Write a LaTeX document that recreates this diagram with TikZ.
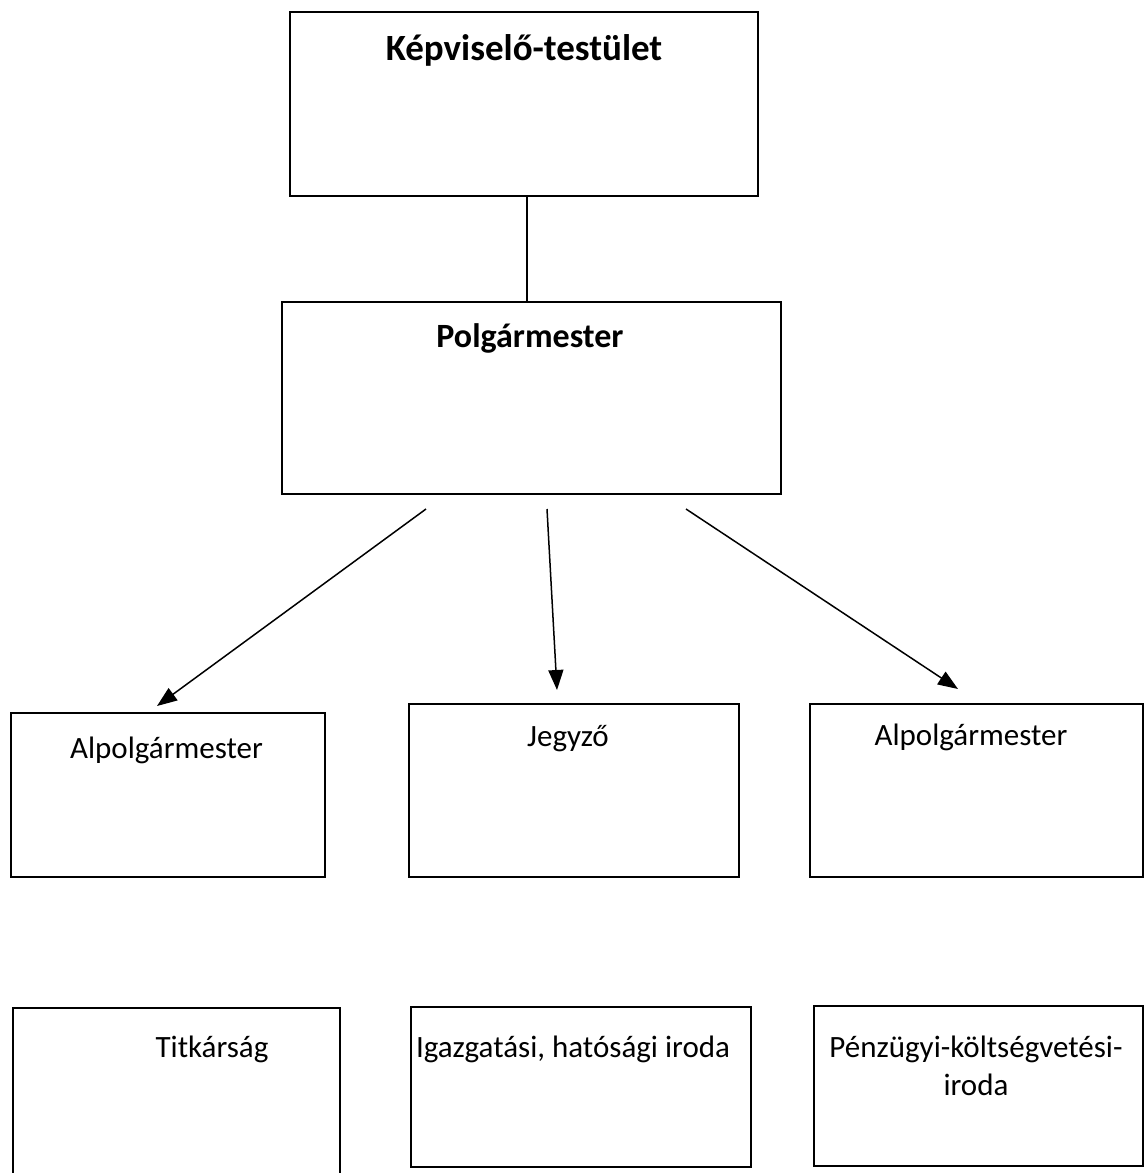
\documentclass[tikz,border=0pt]{standalone}
\usepackage{fontspec}
\setmainfont{Carlito}
\usetikzlibrary{arrows.meta}
\begin{document}
\begin{tikzpicture}[x=0.5pt, y=-0.5pt,
  box/.style={draw, line width=0.9pt, inner sep=0pt},
  lbl/.style={anchor=base, inner sep=0pt, font=\fontsize{15.5pt}{19pt}\selectfont},
  head/.style={anchor=base, inner sep=0pt, font=\fontsize{18.5pt}{22pt}\selectfont\bfseries},
  link/.style={line width=0.75pt, -{Triangle[length=10pt, width=7.5pt]}}]
  \useasboundingbox (0,0) rectangle (1145,1173);
  \fill[white] (0,0) rectangle (1145,1173);
  % boxes
  \node[box, minimum width=234pt, minimum height=92pt] (kt) at (524,104) {};
  \node[box, minimum width=249.5pt, minimum height=96pt] (pm) at (531.5,398) {};
  \node[box, minimum width=157pt, minimum height=82pt] (alp1) at (168,795) {};
  \node[box, minimum width=165pt, minimum height=86.5pt] (jegy) at (574,790.5) {};
  \node[box, minimum width=166.5pt, minimum height=86.5pt] (alp2) at (976.5,790.5) {};
  \node[box, minimum width=163.5pt, minimum height=88.5pt] (titk) at (176.5,1096.5) {};
  \node[box, minimum width=170pt, minimum height=80pt] (igaz) at (581,1087) {};
  \node[box, minimum width=164.5pt, minimum height=80pt] (penz) at (978.5,1086) {};
  % texts
  \node[head] (ktl) at (524,60) {Képviselő-testület};
  \node[head, font=\fontsize{17pt}{21pt}\selectfont\bfseries] (pml) at (530,347) {Polgármester};
  \node[lbl] (alp1l) at (166.5,758) {Alpolgármester};
  \node[lbl] (jegyl) at (568,746) {Jegyző};
  \node[lbl] (alp2l) at (971,745) {Alpolgármester};
  \node[lbl] (titkl) at (212,1057) {Titkárság};
  \node[lbl] (igazl) at (573,1057) {Igazgatási, hatósági iroda};
  \node[lbl, align=center] (penzl) at (976,1095) {Pénzügyi-költségvetési-\\iroda};
  % connectors
  \coordinate (a1) at (426,509); \coordinate (b1) at (157,706);
  \coordinate (a2) at (547,509); \coordinate (b2) at (557,690);
  \coordinate (a3) at (686,509); \coordinate (b3) at (958,689);
  \draw[line width=0.75pt] ([xshift=1.5pt]kt.south) -- ([xshift=1.5pt]kt.south |- pm.north);
  \draw[link] (a1) -- (b1);
  \draw[link] (a2) -- (b2);
  \draw[link] (a3) -- (b3);
\end{tikzpicture}
\end{document}
